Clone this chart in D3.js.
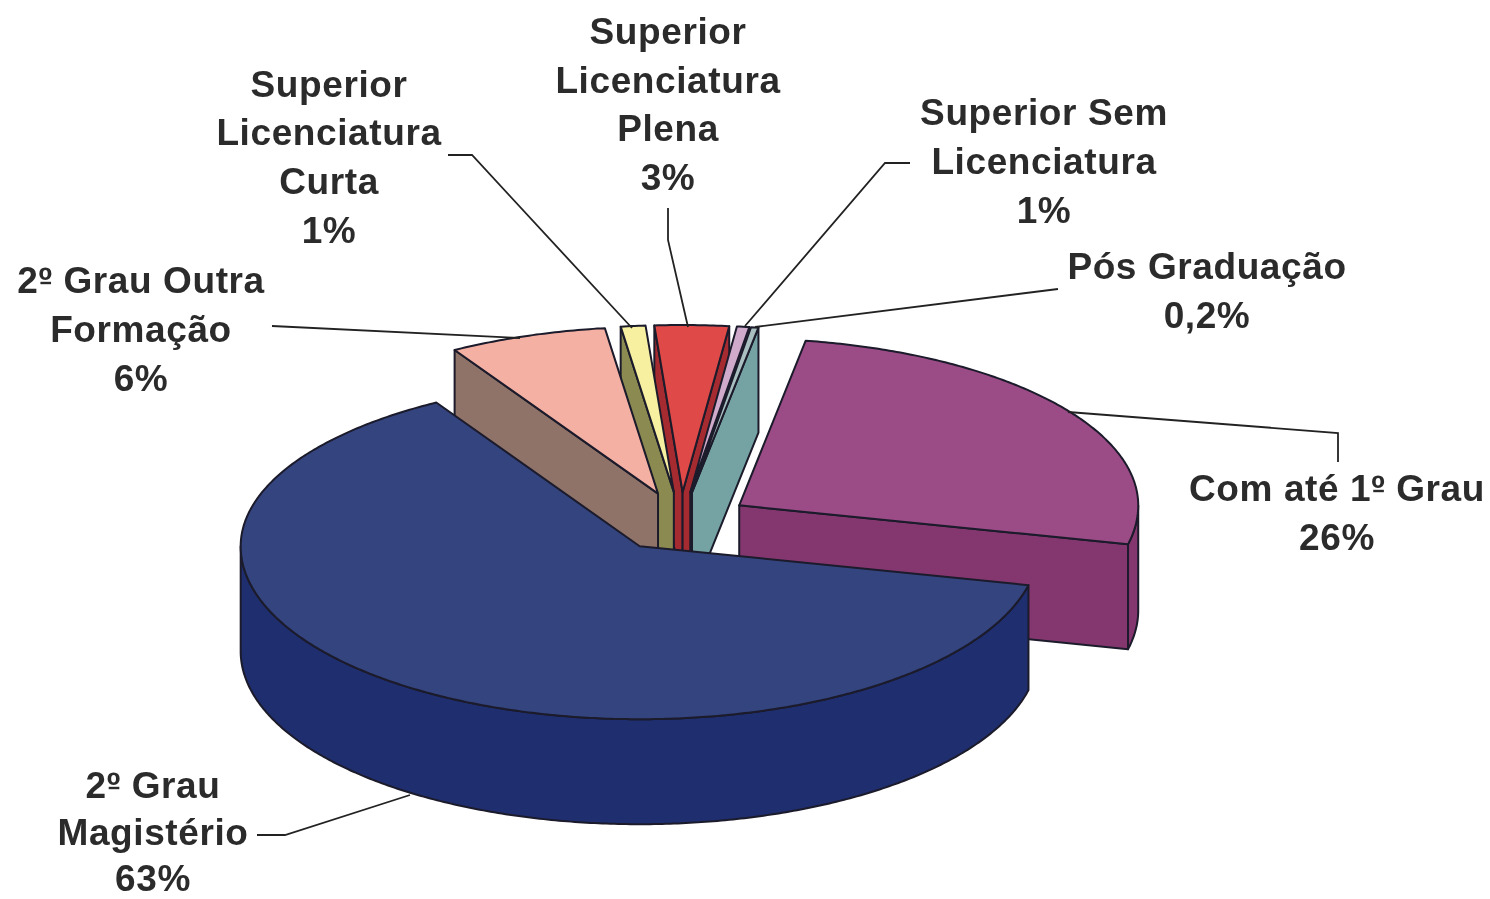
<!DOCTYPE html>
<html>
<head>
<meta charset="utf-8">
<script src="https://cdnjs.cloudflare.com/ajax/libs/d3/7.8.5/d3.min.js"></script>
<style>
  body { margin: 0; background: #fff; }
  svg { display: block; filter: blur(0.6px); }
  text { font-family: "Liberation Sans", Arial, sans-serif; font-weight: bold; font-size: 37px; fill: #2b2b2b; letter-spacing: 0.6px; text-anchor: middle; }
</style>
</head>
<body>
<div class="chart"></div>
<script>
// slices, clockwise starting from the blue one
const categories = ["2º Grau Magistério", "2º Grau Outra Formação", "Superior Licenciatura Curta", "Superior Licenciatura Plena", "Superior Sem Licenciatura", "Pós Graduação", "Com até 1º Grau"];
// the printed labels are rounded
const values = [63, 6.4, 1, 3, 0.5, 0.3, 26];
const topColors = ["#34447f", "#f5b0a4", "#f6f0a0", "#df4a48", "#cfaacb", "#a9bfc0", "#9b4b86"];
const sideColors = ["#1f2e6e", "#8f7268", "#8b8a50", "#a62b30", "#a98aa8", "#75a2a2", "#84376f"];

// back to front
const drawOrder = [6, 3, 4, 5, 2, 1, 0];

// label text lines + where they go
const labels = [
    {lines: ["2º Grau", "Magistério", "63%"], x: 153, y: 798, gap: 46.5},
    {lines: ["2º Grau Outra", "Formação", "6%"], x: 141, y: 293, gap: 49},
    {lines: ["Superior", "Licenciatura", "Curta", "1%"], x: 329, y: 96.5, gap: 48.7},
    {lines: ["Superior", "Licenciatura", "Plena", "3%"], x: 668, y: 44, gap: 48.7},
    {lines: ["Superior Sem", "Licenciatura", "1%"], x: 1044, y: 124.5, gap: 49},
    {lines: ["Pós Graduação", "0,2%"], x: 1207, y: 279, gap: 49},
    {lines: ["Com até 1º Grau", "26%"], x: 1337, y: 501, gap: 49}
];
const leaders = [
    [[257, 835], [285, 835], [410, 795]],
    [[272, 326], [520, 338]],
    [[448, 155], [472, 155], [632, 328]],
    [[668, 208], [668, 240], [688, 327]],
    [[910, 163], [885, 163], [745, 326]],
    [[1058, 289], [755, 327]],
    [[1068, 412], [1338, 433], [1338, 462]]
];

const width = 1490, height = 899;
const center = {x: 681, y: 522};
const rx = 399, ryFar = 167, ryNear = 173;
const depth = 105;
const explodeX = 70, explodeY = 30;
const startAngle = 103 * Math.PI / 180;
const TAU = 2 * Math.PI;

const svg = d3.select(".chart")
    .append("svg")
    .attr("width", width)
    .attr("height", height);

const pie = d3.pie()
    .sort(null)
    .value(d => d)
    .startAngle(startAngle)
    .endAngle(startAngle + TAU);

const arcs = pie(values);
const line = d3.line().x(d => d[0]).y(d => d[1]);

// where the slice sits once pulled out of the pie
function apexOf(a) {
    const mid = (a.startAngle + a.endAngle) / 2;
    return [center.x + explodeX * Math.sin(mid), center.y - explodeY * Math.cos(mid)];
}

function rim(a, t) {
    const apex = apexOf(a);
    const yy = -Math.cos(t);
    return [apex[0] + rx * Math.sin(t), apex[1] + (yy > 0 ? ryNear : ryFar) * yy];
}

function down(p) {
    return [p[0], p[1] + depth];
}

function rimPoints(t0, t1, a) {
    const n = Math.max(2, Math.ceil((t1 - t0) / 0.01));
    return d3.range(n + 1).map(i => rim(a, t0 + (t1 - t0) * i / n));
}

drawOrder.forEach(i => {
    const a = arcs[i];
    const apex = apexOf(a);
    const g = svg.append("g")
        .attr("stroke", "#1b1b2b")
        .attr("stroke-width", 2)
        .attr("stroke-linejoin", "round");

    // radial walls, only the ones facing us
    if (Math.sin(a.startAngle) < 0) {
        const p = rim(a, a.startAngle);
        g.append("path").attr("d", line([p, apex, down(apex), down(p)]) + "Z").attr("fill", sideColors[i]);
    }

    // curved outer wall, near half only (purple's angles run past a full turn)
    const shift = a.startAngle >= TAU ? TAU : 0;
    const t0 = Math.max(a.startAngle - shift, Math.PI / 2);
    const t1 = Math.min(a.endAngle - shift, 3 * Math.PI / 2);
    if (t1 > t0) {
        const pts = rimPoints(t0, t1, a);
        g.append("path")
            .attr("d", line(pts.concat(pts.map(down).reverse())) + "Z")
            .attr("fill", sideColors[i]);
    }

    if (Math.sin(a.endAngle) > 0) {
        const p = rim(a, a.endAngle);
        g.append("path").attr("d", line([p, apex, down(apex), down(p)]) + "Z").attr("fill", sideColors[i]);
    }

    // top face
    g.append("path")
        .attr("class", "slice")
        .attr("d", line([apex].concat(rimPoints(a.startAngle, a.endAngle, a))) + "Z")
        .attr("fill", topColors[i]);
});

svg.selectAll(".leader")
    .data(leaders)
    .join("path")
    .attr("class", "leader")
    .attr("d", line)
    .attr("fill", "none")
    .attr("stroke", "#222")
    .attr("stroke-width", 1.8);

labels.forEach(l => {
    const t = svg.append("text");
    t.selectAll("tspan")
        .data(l.lines)
        .join("tspan")
        .attr("x", l.x)
        .attr("y", (d, i) => l.y + i * l.gap)
        .text(d => d);
});

// the º in the reference has a bar under it
svg.selectAll("text").each(function() {
    const k = this.textContent.indexOf("º");
    if (k < 0) return;
    const p0 = this.getStartPositionOfChar(k);
    const p1 = this.getEndPositionOfChar(k);
    svg.append("line")
        .attr("x1", p0.x + 2)
        .attr("x2", p1.x - 1.5)
        .attr("y1", p0.y - 10)
        .attr("y2", p0.y - 10)
        .attr("stroke", "#2b2b2b")
        .attr("stroke-width", 2.4);
});
</script>
</body>
</html>
